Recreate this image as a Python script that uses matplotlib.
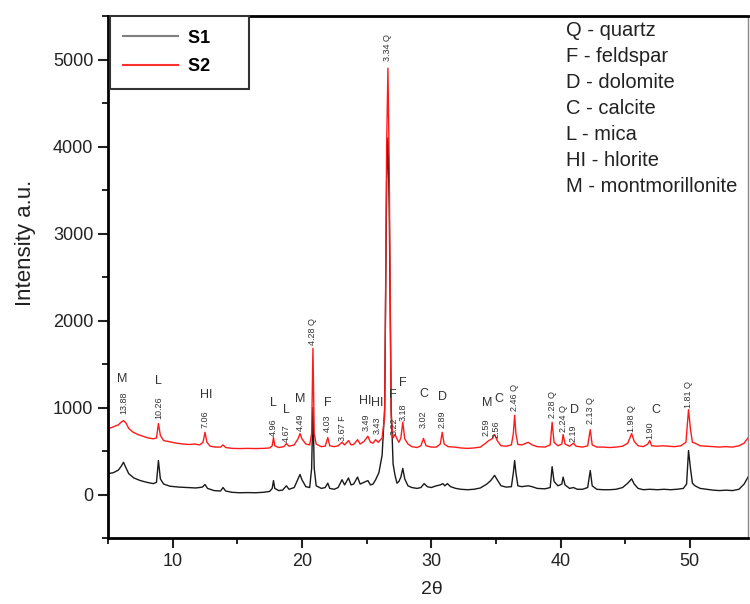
import matplotlib
matplotlib.use('Agg')
import matplotlib.pyplot as plt
from matplotlib.lines import Line2D

plt.rcParams['font.family'] = ['Liberation Sans', 'DejaVu Sans']

# S2 (red) pattern: 2theta / intensity
tt_s2 = [5.0, 5.3, 5.6, 5.8, 6.0, 6.2, 6.4, 6.6, 6.9, 7.3, 7.7, 8.1, 8.5, 8.75, 8.9, 9.05, 9.3, 9.8,
         10.3, 10.8, 11.3, 11.7, 12.1, 12.35, 12.5, 12.65, 12.9, 13.3, 13.7, 13.9, 14.1, 14.6, 15.2,
         15.8, 16.4, 17.0, 17.5, 17.7, 17.8, 17.9, 18.2, 18.6, 18.8, 19.0, 19.4, 19.7, 19.85, 20.0,
         20.3, 20.6, 20.75, 20.85, 20.95, 21.1, 21.5, 21.8, 22.0, 22.15, 22.5, 22.8, 23.1, 23.3, 23.6,
         23.8, 24.0, 24.3, 24.5, 24.8, 25.1, 25.3, 25.5, 25.7, 25.9, 26.2, 26.4, 26.55, 26.65, 26.75,
         26.9, 27.05, 27.2, 27.35, 27.5, 27.65, 27.8, 27.95, 28.2, 28.5, 28.9, 29.2, 29.4, 29.6, 30.0,
         30.4, 30.7, 30.85, 31.0, 31.3, 31.8, 32.3, 32.8, 33.3, 33.8, 34.2, 34.45, 34.7, 34.9, 35.1,
         35.4, 35.8, 36.2, 36.35, 36.45, 36.55, 36.7, 37.0, 37.5, 37.8, 38.2, 38.8, 39.2, 39.35, 39.5,
         39.8, 40.1, 40.2, 40.35, 40.7, 41.0, 41.2, 41.7, 42.1, 42.3, 42.45, 42.8, 43.3, 43.8, 44.3,
         44.8, 45.2, 45.5, 45.7, 46.0, 46.4, 46.75, 46.9, 47.05, 47.5, 47.9, 48.3, 48.8, 49.3, 49.7,
         49.9, 50.05, 50.2, 50.4, 50.8, 51.3, 51.8, 52.3, 52.8, 53.3, 53.8, 54.2, 54.5]
int_s2 = [760, 770, 790, 800, 830, 850, 820, 760, 720, 690, 670, 650, 640, 650, 815, 680, 620, 605,
          590, 580, 575, 580, 570, 600, 715, 600, 555, 545, 545, 570, 540, 530, 528,
          530, 528, 530, 535, 560, 655, 560, 540, 550, 585, 555, 570, 640, 700, 640,
          580, 570, 700, 1680, 700, 580, 550, 555, 655, 560, 550, 560, 600, 570, 620,
          570, 575, 630, 580, 610, 670, 600, 590, 630, 600, 650, 900, 4000, 4900, 3800,
          900, 650, 690, 640, 600, 650, 830, 640, 580, 550, 540, 560, 645, 560, 545,
          545, 580, 715, 580, 550, 545, 535, 530, 535, 545, 590, 620, 640, 690, 620,
          560, 555, 570, 700, 910, 700, 575, 570, 600, 570, 550, 545, 570, 830, 600,
          560, 580, 690, 580, 555, 590, 555, 545, 560, 745, 570, 545, 545, 540, 545,
          555, 590, 700, 610, 560, 550, 580, 620, 560, 555, 560, 555, 550, 560, 600,
          975, 750, 600, 590, 560, 555, 550, 545, 550, 545, 560, 590, 650]

# S1 (black) pattern
tt_s1 = [5.0, 5.4, 5.8, 6.0, 6.2, 6.35, 6.6, 7.0, 7.5, 8.0, 8.5, 8.75, 8.9, 9.05, 9.3, 9.8, 10.5,
         11.2, 11.8, 12.3, 12.5, 12.7, 13.2, 13.7, 13.9, 14.1, 14.6, 15.2, 15.8, 16.4, 17.0, 17.5,
         17.7, 17.8, 17.9, 18.2, 18.5, 18.8, 19.0, 19.4, 19.7, 19.85, 20.0, 20.3, 20.6, 20.75, 20.85,
         20.95, 21.1, 21.5, 21.8, 22.0, 22.15, 22.5, 22.8, 23.1, 23.3, 23.6, 23.8, 24.0, 24.3, 24.5,
         24.8, 25.1, 25.3, 25.5, 25.7, 25.95, 26.2, 26.4, 26.55, 26.65, 26.75, 26.9, 27.05, 27.2,
         27.35, 27.5, 27.65, 27.8, 27.95, 28.2, 28.5, 28.9, 29.2, 29.45, 29.7, 30.0, 30.4, 30.7, 30.9,
         31.05, 31.25, 31.5, 31.9, 32.3, 32.8, 33.3, 33.8, 34.3, 34.6, 34.9, 35.1, 35.4, 35.8, 36.2,
         36.35, 36.45, 36.55, 36.7, 37.0, 37.5, 37.8, 38.2, 38.8, 39.2, 39.35, 39.5, 39.8, 40.1, 40.2,
         40.35, 40.7, 41.0, 41.3, 41.7, 42.1, 42.3, 42.45, 42.8, 43.3, 43.8, 44.3, 44.8, 45.2, 45.5,
         45.7, 46.0, 46.4, 46.9, 47.5, 48.0, 48.5, 49.0, 49.5, 49.75, 49.9, 50.05, 50.2, 50.4, 50.8,
         51.3, 51.8, 52.3, 52.8, 53.3, 53.8, 54.2, 54.5]
int_s1 = [240, 250, 280, 320, 370, 320, 240, 190, 160, 140, 125, 140, 390, 180, 120, 95, 85,
          80, 75, 85, 115, 70, 45, 40, 80, 40, 25, 20, 22, 20, 25, 35,
          70, 160, 70, 45, 50, 100, 60, 80, 180, 230, 170, 90, 80, 300, 1000,
          300, 100, 70, 80, 130, 70, 60, 80, 170, 110, 190, 110, 120, 200, 120,
          140, 160, 110, 120, 170, 250, 450, 1000, 3600, 4100, 3300, 1000, 350, 220,
          130, 150, 200, 300, 180, 100, 80, 70, 80, 125, 90, 80, 100, 110, 125,
          100, 125, 90, 70, 60, 55, 60, 75, 120, 160, 220, 170, 100, 85, 90,
          250, 390, 250, 100, 90, 100, 90, 70, 65, 80, 320, 150, 100, 120, 200,
          110, 70, 80, 60, 60, 80, 275, 100, 60, 55, 55, 60, 80, 130, 180,
          120, 70, 55, 60, 55, 60, 55, 60, 70, 120, 505, 300, 130, 100, 70,
          60, 50, 45, 50, 45, 60, 120, 200]

# quartz peaks: rotated "d Q" label, bottom of label
q_pos = [20.85, 26.65, 36.45, 39.35, 40.2, 42.3, 45.5, 49.9]
q_text = ['4.28 Q', '3.34 Q', '2.46 Q', '2.28 Q', '2.24 Q', '2.13 Q', '1.98 Q', '1.81 Q']
q_y = [1720, 4980, 965, 875, 713, 816, 713, 1000]

# other peaks: rotated d value + horizontal phase letter
d_pos = [6.2, 8.9, 12.5, 17.8, 18.8, 19.85, 22.0, 23.1, 24.95, 25.8, 27.15, 27.85, 29.4, 30.85,
         34.25, 35.0, 41.0, 46.9]
d_text = ['13.88', '10.26', '7.06', '4.96', '4.67', '4.49', '4.03', '3.67 F', '3.49', '3.43',
          '3.22', '3.18', '3.02', '2.89', '2.59', '2.56', '2.19', '1.90']
d_y = [930, 873, 770, 678, 598, 735, 713, 620, 735, 700, 680, 850, 770, 760, 678, 655, 598, 640]
ph_pos = [6.1, 8.9, 12.6, 17.8, 18.8, 19.85, 22.0, 24.9, 25.8, 27.0, 27.8, 29.45, 30.9,
          34.3, 35.2, 41.1, 47.4]
ph_text = ['M', 'L', 'HI', 'L', 'L', 'M', 'F', 'HI', 'HI', 'F', 'F', 'C', 'D', 'M', 'C', 'D', 'C']
ph_y = [1333, 1310, 1138, 1046, 966, 1103, 1057, 1080, 1046, 1138, 1287, 1150, 1126, 1046, 1092,
        966, 966]

key_lines = ['Q - quartz', 'F - feldspar', 'D - dolomite', 'C - calcite', 'L - mica',
             'HI - hlorite', 'M - montmorillonite']

fig = plt.figure(figsize=(7.5, 6.04), dpi=100)
ax = fig.add_axes([108 / 750, 66 / 604, 640 / 750, 522 / 604])

ax.plot(tt_s1, int_s1, color='#1a1a1a', lw=1.0)
ax.plot(tt_s2, int_s2, color='#ff1a1a', lw=1.0)

for x, t, y in zip(q_pos, q_text, q_y):
    ax.text(x, y, t, rotation=90, ha='center', va='bottom', fontsize=6.5, color='#333333')
for x, t, y in zip(d_pos, d_text, d_y):
    ax.text(x, y, t, rotation=90, ha='center', va='bottom', fontsize=6.5, color='#333333')
for x, t, y in zip(ph_pos, ph_text, ph_y):
    ax.text(x, y, t, ha='center', va='center', fontsize=9, color='#333333')

for i, t in enumerate(key_lines):
    ax.text(0.716, (538 - 30 - 26 * i) / 522, t, transform=ax.transAxes,
            ha='left', va='center', fontsize=14.5, color='#222222')

ax.set_xlim(5, 54.5)
ax.set_ylim(-500, 5500)
ax.set_xticks([10, 20, 30, 40, 50])
ax.set_xticks([5, 15, 25, 35, 45], minor=True)
ax.set_yticks([0, 1000, 2000, 3000, 4000, 5000])
ax.set_yticks([-500, 500, 1500, 2500, 3500, 4500, 5500], minor=True)
ax.tick_params(which='major', direction='out', length=7, width=1.5, labelsize=13, colors='#222222')
ax.tick_params(which='minor', direction='out', length=4, width=1.2)

for side in ['left', 'bottom', 'top']:
    ax.spines[side].set_linewidth(2)
ax.spines['right'].set_linewidth(1)
ax.spines['right'].set_color('#888888')

ax.set_ylabel('Intensity a.u.', fontsize=16, color='#222222')
ax.yaxis.set_label_coords(-0.112, 0.565)
ax.set_xlabel('2θ', fontsize=14, color='#222222')
ax.xaxis.set_label_coords(0.506, -0.083)

handles = [Line2D([0], [0], color='#808080', lw=1.5), Line2D([0], [0], color='#ff3030', lw=1.5)]
leg = ax.legend(handles, ['S1     ', 'S2     '], loc='upper left', bbox_to_anchor=(0.003, 1.0),
                borderaxespad=0, fancybox=False, edgecolor='#333333', framealpha=1,
                prop={'weight': 'bold', 'size': 13}, handlelength=3.0, handletextpad=0.6,
                labelspacing=0.65, borderpad=0.75)
leg.get_frame().set_linewidth(1.5)

fig.savefig('out.png', dpi=100)
